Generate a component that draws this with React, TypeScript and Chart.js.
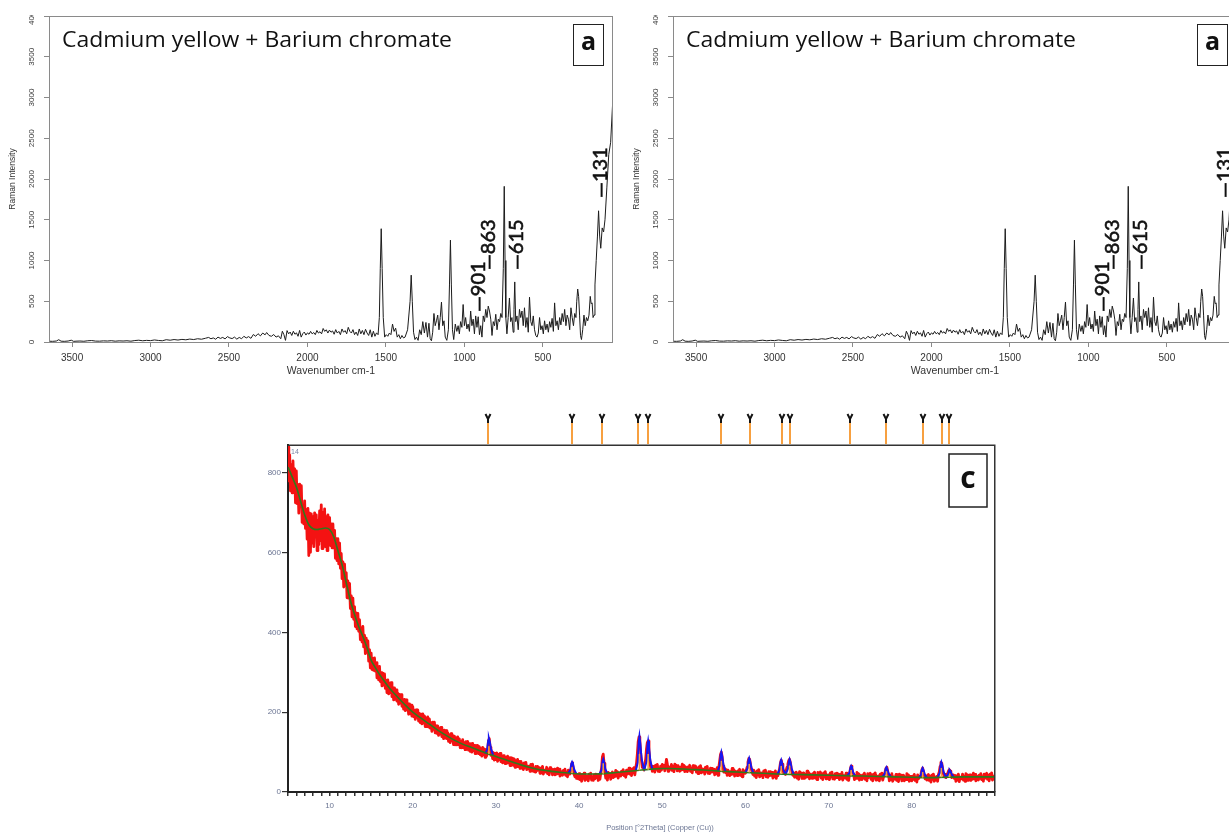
import React, { useEffect, useRef } from "react";
import { Chart, registerables } from "chart.js";

Chart.register(...registerables);
Chart.defaults.font.family = "'Liberation Sans', Arial, sans-serif";

// ---------- Raman panel data ----------
const ramanTitle = "Cadmium yellow + Barium chromate";
const ramanPanelLetter = "a";
const ramanXTicks = [3500, 3000, 2500, 2000, 1500, 1000, 500];
const ramanYTicks = [0, 500, 1000, 1500, 2000, 2500, 3000, 3500, 4000];
const ramanPeakLabels = ["—901", "—863", "—615", "—131"];
const ramanPeakLabelX = [911, 847, 668, 131];
const ramanPeakLabelY = [368, 883, 883, 1767];
// [wavenumber cm-1, intensity]
const ramanSpectrum: [number, number][] = [
  [3650,10],[3625,8],[3600,12],[3585,28],[3570,10],[3550,8],[3525,12],[3505,22],[3490,8],[3475,10],
  [3450,12],[3425,9],[3400,15],[3375,18],[3350,11],[3325,10],[3300,14],[3275,12],[3250,16],[3225,10],
  [3200,14],[3175,12],[3150,15],[3125,10],[3100,18],[3075,22],[3050,15],[3025,20],[3000,17],[2975,25],
  [2950,19],[2925,15],[2900,28],[2875,22],[2850,30],[2825,24],[2800,32],[2775,27],[2750,36],[2725,30],
  [2700,40],[2675,34],[2650,46],[2630,56],[2615,40],[2600,50],[2585,34],[2570,60],[2555,44],[2540,56],
  [2525,38],[2510,66],[2495,50],[2480,42],[2465,60],[2450,35],[2435,56],[2420,40],[2405,70],[2390,50],
  [2375,66],[2360,45],[2345,92],[2330,70],[2315,102],[2300,75],[2285,110],[2270,88],[2260,116],[2245,80],
  [2230,70],[2215,92],[2200,60],[2185,76],[2170,40],[2160,132],[2150,90],[2140,20],[2130,140],[2120,100],
  [2110,122],[2100,80],[2090,132],[2080,95],[2070,112],[2060,70],[2050,142],[2040,60],[2030,102],[2020,122],
  [2010,85],[2000,112],[1990,95],[1980,130],[1970,100],[1960,116],[1950,90],[1940,142],[1930,110],[1920,126],
  [1910,100],[1900,166],[1890,130],[1880,150],[1870,110],[1860,146],[1850,120],[1840,136],[1830,95],[1820,152],
  [1810,110],[1800,130],[1790,90],[1780,160],[1770,120],[1760,140],[1750,100],[1740,180],[1730,130],[1720,110],
  [1710,152],[1700,90],[1690,122],[1680,80],[1670,160],[1660,100],[1650,142],[1640,90],[1630,156],[1620,110],
  [1610,80],[1600,150],[1590,60],[1580,132],[1570,70],[1560,112],[1550,90],[1542,300],[1536,900],[1530,1390],
  [1524,900],[1517,300],[1508,60],[1498,90],[1488,70],[1478,110],[1468,90],[1458,220],[1448,130],[1438,170],
  [1428,60],[1418,90],[1408,40],[1398,80],[1388,50],[1378,60],[1362,150],[1346,500],[1339,820],[1332,500],
  [1324,120],[1315,30],[1305,60],[1295,20],[1285,150],[1275,90],[1265,250],[1255,110],[1245,240],[1235,60],
  [1226,230],[1218,40],[1210,15],[1202,120],[1194,350],[1186,200],[1178,260],[1170,330],[1162,150],[1154,300],
  [1146,490],[1138,200],[1130,260],[1122,60],[1112,20],[1102,150],[1095,700],[1089,1250],[1083,700],[1076,150],
  [1068,30],[1058,220],[1048,130],[1040,200],[1032,100],[1024,250],[1016,180],[1008,460],[1000,200],[992,300],
  [984,160],[976,220],[968,130],[960,380],[952,200],[944,280],[936,100],[928,320],[920,180],[912,310],
  [904,90],[896,200],[888,60],[880,320],[872,250],[864,400],[856,300],[848,440],[840,380],[832,280],
  [824,80],[816,250],[808,200],[800,340],[792,150],[784,280],[776,250],[768,350],[760,300],[752,900],
  [746,1910],[741,1000],[736,300],[729,100],[721,300],[713,540],[705,250],[697,300],[689,120],[684,400],
  [679,737],[673,250],[665,320],[657,150],[649,400],[641,300],[633,380],[625,200],[617,420],[609,180],
  [601,300],[593,120],[585,550],[577,250],[569,200],[561,320],[553,150],[545,80],[537,60],[529,110],
  [521,300],[513,150],[505,200],[497,100],[489,260],[481,150],[473,220],[465,120],[457,250],[449,180],
  [441,290],[433,130],[425,480],[417,200],[409,260],[401,150],[393,300],[385,210],[377,350],[369,250],
  [361,400],[353,200],[345,330],[337,280],[329,150],[321,420],[313,300],[305,200],[297,350],[289,300],
  [284,500],[278,650],[272,560],[266,330],[260,80],[254,30],[246,150],[238,330],[230,200],[222,300],
  [214,260],[206,330],[198,560],[192,470],[186,480],[180,300],[174,330],[168,700],[160,1000],[152,1300],
  [145,1610],[138,1300],[131,1150],[122,1400],[113,1350],[104,1500],[92,1900],[80,2300],[68,2450],[55,2940]
];

// ---------- XRD panel data ----------
const xrdPanelLetter = "c";
const xrdAxisTitle = "Position [°2Theta] (Copper (Cu))";
const xrdYTicks = [0, 200, 400, 600, 800];
const xrdXLabels = [10, 20, 30, 40, 50, 60, 70, 80];
const xrdStart = 5;
const xrdStep = 0.1;
// observed counts, one value every 0.1 °2θ from 5.0 to 90.0 (one row per degree)
const xrdObserved = [
  865, 780, 845, 755, 820, 750, 830, 755, 810, 725, // 5
  805, 723, 771, 699, 772, 715, 768, 676, 719, 672, // 6
  730, 661, 708, 634, 711, 593, 699, 601, 697, 624, // 7
  690, 615, 700, 640, 695, 605, 680, 620, 705, 630, // 8
  720, 610, 700, 630, 710, 615, 690, 605, 695, 635, // 9
  688, 618, 672, 612, 672, 612, 656, 586, 635, 580, // 10
  635, 572, 624, 561, 598, 535, 577, 514, 571, 518, // 11
  550, 487, 529, 486, 523, 460, 492, 439, 486, 433, // 12
  465, 415, 449, 409, 448, 403, 432, 382, 411, 376, // 13
  415, 364, 393, 347, 386, 350, 379, 328, 357, 311, // 14
  348, 307, 335, 305, 336, 303, 324, 286, 312, 281, // 15
  315, 277, 299, 266, 298, 268, 296, 260, 280, 249, // 16
  281, 246, 273, 249, 274, 239, 262, 231, 261, 232, // 17
  256, 228, 248, 220, 245, 223, 244, 215, 230, 208, // 18
  232, 204, 231, 206, 222, 195, 221, 196, 218, 190, // 19
  214, 189, 205, 182, 206, 187, 206, 178, 197, 174, // 20
  195, 171, 196, 173, 191, 164, 185, 164, 188, 163, // 21
  183, 160, 174, 152, 175, 157, 175, 148, 166, 147, // 22
  166, 142, 160, 145, 162, 139, 153, 134, 155, 135, // 23
  154, 134, 149, 127, 143, 124, 146, 129, 142, 119, // 24
  140, 118, 135, 118, 138, 119, 133, 111, 127, 111, // 25
  131, 111, 124, 106, 126, 111, 127, 105, 121, 102, // 26
  121, 100, 122, 104, 117, 96, 117, 99, 117, 96,    // 27
  114, 94, 108, 90, 112, 93, 108, 87, 106, 91,      // 28
  105, 128, 134, 112, 92, 101, 84, 99, 80, 97,      // 29
  81, 98, 77, 94, 81, 97, 76, 90, 73, 91,           // 30
  91, 71, 87, 72, 90, 73, 86, 66, 86, 69,           // 31
  85, 67, 83, 62, 78, 63, 82, 64, 77, 59,           // 32
  77, 61, 71, 56, 73, 62, 74, 56, 65, 58,           // 33
  65, 52, 69, 58, 70, 52, 60, 50, 64, 53,           // 34
  64, 55, 61, 47, 60, 49, 64, 45, 55, 51,           // 35
  50, 62, 46, 56, 43, 61, 51, 58, 43, 56,           // 36
  57, 43, 53, 45, 60, 46, 57, 40, 52, 48,           // 37
  42, 54, 45, 57, 42, 49, 38, 55, 45, 51,           // 38
  52, 70, 74, 58, 44, 38, 46, 34, 42, 33,           // 39
  46, 31, 41, 27, 44, 34, 47, 29, 39, 32,           // 40
  40, 28, 45, 35, 47, 30, 38, 29, 43, 33,           // 41
  45, 36, 43, 29, 42, 32, 47, 60, 88, 95,           // 42
  72, 50, 35, 43, 30, 49, 39, 46, 32, 45,           // 43
  50, 36, 46, 39, 54, 40, 51, 35, 47, 43,           // 44
  40, 52, 44, 56, 41, 48, 37, 55, 45, 51,           // 45
  60, 45, 55, 41, 58, 48, 61, 43, 60, 72,           // 46
  95, 126, 138, 130, 98, 78, 62, 66, 55, 70,        // 47
  82, 108, 124, 128, 105, 80, 62, 66, 52, 64,       // 48
  62, 50, 67, 57, 69, 52, 60, 51, 65, 55,           // 49
  69, 60, 67, 53, 66, 82, 71, 52, 63, 59,           // 50
  57, 69, 54, 64, 51, 70, 60, 67, 53, 66,           // 51
  66, 52, 62, 55, 70, 56, 67, 51, 63, 59,           // 52
  51, 63, 55, 67, 52, 59, 48, 66, 56, 62,           // 53
  65, 50, 60, 46, 63, 53, 66, 48, 58, 51,           // 54
  57, 45, 62, 52, 64, 47, 55, 46, 60, 50,           // 55
  59, 50, 57, 43, 56, 46, 61, 42, 62, 78,           // 56
  94, 100, 88, 65, 50, 59, 49, 56, 42, 55,          // 57
  55, 41, 51, 44, 59, 45, 56, 40, 52, 48,           // 58
  41, 53, 45, 57, 42, 49, 38, 56, 46, 52,           // 59
  47, 55, 62, 75, 84, 82, 70, 58, 50, 44,           // 60
  55, 40, 50, 36, 53, 43, 56, 38, 48, 41,           // 61
  48, 36, 53, 43, 55, 38, 46, 37, 51, 41,           // 62
  51, 42, 49, 35, 48, 38, 53, 34, 45, 41,           // 63
  50, 58, 72, 80, 70, 55, 48, 52, 44, 55,           // 64
  62, 70, 79, 82, 74, 60, 48, 42, 48, 37,           // 65
  38, 50, 35, 45, 32, 51, 41, 48, 34, 47,           // 66
  48, 34, 44, 37, 52, 38, 49, 33, 45, 41,           // 67
  34, 46, 38, 50, 35, 42, 31, 49, 39, 45,           // 68
  50, 35, 45, 31, 48, 38, 51, 33, 43, 36,           // 69
  43, 31, 48, 38, 50, 33, 41, 32, 46, 36,           // 70
  47, 38, 45, 31, 44, 34, 49, 30, 41, 37,           // 71
  35, 47, 32, 42, 29, 44, 56, 65, 60, 48,           // 72
  45, 31, 41, 34, 49, 35, 46, 30, 42, 38,           // 73
  31, 43, 35, 47, 32, 39, 28, 46, 36, 42,           // 74
  47, 32, 42, 28, 45, 35, 48, 30, 40, 33,           // 75
  40, 28, 45, 35, 47, 30, 38, 44, 52, 60,           // 76
  62, 52, 42, 28, 41, 31, 46, 27, 38, 34,           // 77
  32, 44, 29, 39, 26, 45, 35, 42, 28, 41,           // 78
  42, 28, 38, 31, 46, 32, 43, 27, 39, 35,           // 79
  28, 40, 32, 44, 29, 36, 25, 43, 33, 39,           // 80
  38, 45, 55, 60, 52, 42, 33, 41, 30, 38,           // 81
  44, 29, 39, 25, 42, 32, 45, 27, 37, 30,           // 82
  39, 27, 44, 50, 64, 74, 72, 58, 46, 38,           // 83
  44, 36, 42, 46, 52, 56, 52, 44, 36, 42,           // 84
  43, 34, 41, 27, 40, 30, 45, 26, 37, 33,           // 85
  33, 45, 30, 40, 27, 46, 36, 43, 29, 42,           // 86
  43, 29, 39, 32, 47, 33, 44, 28, 40, 36,           // 87
  30, 42, 34, 46, 31, 38, 27, 45, 35, 41,           // 88
  47, 32, 42, 28, 45, 35, 48, 30, 40, 33,           // 89
  36                                                // 90
];
const xrdBackgroundX = [
  5, 5.5, 6, 6.5, 7, 7.5, 8, 8.5, 9, 9.5, 10, 10.5, 11, 11.5, 12, 12.5, 13, 13.5, 14, 14.5, 15, 15.5, 16, 16.5, 17, 17.5, 18,
  19, 20, 21, 22, 23, 24, 25, 26, 27, 28, 29, 30, 31, 32, 33, 34, 35, 36, 37, 38, 39, 40, 41, 42, 43, 44, 45, 46, 47, 48, 49,
  50, 51, 52, 53, 54, 55, 56, 57, 58, 59, 60, 62, 64, 66, 68, 70, 72, 74, 76, 78, 80, 82, 84, 86, 88, 90
];
const xrdBackgroundY = [
  815, 790, 765, 730, 695, 670, 660, 658, 660, 662, 658, 640, 605, 570, 525, 480, 445, 415, 390, 362, 330, 312, 295, 280, 266, 253, 242,
  220, 200, 185, 170, 155, 142, 130, 120, 112, 104, 96, 89, 82, 75, 68, 62, 57, 54, 51, 49, 47, 45, 45, 45, 46, 48, 50, 52, 54, 56, 58,
  59, 59, 58, 57, 56, 55, 54, 52, 51, 50, 49, 47, 45, 44, 43, 42, 41, 40, 39, 38, 37, 36, 37, 38, 38, 38
];
// calculated profile around the fitted peaks (null = gap)
const xrdFitProfile: [number, number | null][] = [
  [28.7,96],[28.95,107],[29.07,129],[29.15,135],[29.25,127],[29.4,109],[29.65,93],[29.7,null],
  [38.7,48],[38.95,55],[39.07,71],[39.15,75],[39.25,70],[39.4,57],[39.65,46],[39.7,null],
  [42.45,45],[42.7,56],[42.82,77],[42.9,82],[43.0,75],[43.15,58],[43.4,46],[43.45,null],
  [46.8,53],[47.05,74],[47.17,127],[47.25,140],[47.35,122],[47.5,85],[47.75,60],[47.85,57],[48.1,76],[48.22,117],[48.3,128],[48.4,113],[48.55,80],[48.8,57],[48.85,null],
  [56.65,52],[56.9,66],[57.02,93],[57.1,100],[57.2,90],[57.35,68],[57.6,51],[57.65,null],
  [60.0,49],[60.25,60],[60.37,80],[60.45,85],[60.55,78],[60.7,62],[60.95,48],[61.0,null],
  [63.85,45],[64.1,56],[64.22,75],[64.3,80],[64.4,73],[64.55,57],[64.75,47],[64.85,46],[65.1,58],[65.22,77],[65.3,82],[65.4,75],[65.55,59],[65.8,44],[65.85,null],
  [72.25,41],[72.5,48],[72.62,61],[72.7,65],[72.8,60],[72.95,49],[73.2,40],[73.25,null],
  [76.5,39],[76.75,46],[76.87,59],[76.95,62],[77.05,57],[77.2,47],[77.45,38],[77.5,null],
  [80.85,36],[81.1,43],[81.22,56],[81.3,60],[81.4,55],[81.55,44],[81.8,36],[81.85,null],
  [83.1,37],[83.35,48],[83.47,69],[83.55,75],[83.65,68],[83.8,51],[84.05,40],[84.1,39],[84.35,43],[84.47,53],[84.55,55],[84.65,52],[84.8,44],[85.05,37]
];
const xrdPeakPositions = [29.15, 39.15, 42.9, 47.25, 48.3, 57.1, 60.45, 64.3, 65.3, 72.7, 76.95, 81.3, 83.55, 84.55];
const xrdStickBase = [95, 47, 46, 54, 56, 52, 49, 45, 45, 41, 39, 36, 37, 37];
const xrdStickTop = [115, 62, 72, 95, 95, 78, 70, 65, 66, 55, 52, 50, 60, 46];
const xrdReferenceLines = [29.0, 39.1, 42.8, 47.1, 48.3, 57.0, 60.5, 64.4, 65.4, 72.6, 76.9, 81.3, 83.6, 84.5];

// ---------- Raman panel ----------
function RamanPanel({ left }: { left: number }) {
  const ref = useRef<HTMLCanvasElement | null>(null);
  useEffect(() => {
    const canvas = ref.current;
    if (!canvas) return;
    const overlay = {
      id: "ramanOverlay",
      afterDraw(chart: any) {
        const { ctx, chartArea: a, scales } = chart;
        const xs = scales.x;
        const ys = scales.y;
        ctx.save();
        // frame
        ctx.strokeStyle = "#8a8a8a";
        ctx.lineWidth = 1;
        ctx.strokeRect(a.left + 0.5, a.top + 0.5, a.right - a.left - 1, a.bottom - a.top);
        // y tick labels (rotated)
        ctx.save();
        ctx.beginPath();
        ctx.rect(0, 15, chart.width, chart.height);
        ctx.clip();
        ctx.fillStyle = "#3a3a3a";
        ctx.font = "8px 'Liberation Sans', Arial, sans-serif";
        ctx.textAlign = "center";
        ctx.textBaseline = "middle";
        for (const v of ramanYTicks) {
          const py = ys.getPixelForValue(v);
          ctx.save();
          ctx.translate(32, py);
          ctx.rotate(-Math.PI / 2);
          ctx.fillText(String(v), 0, 0);
          ctx.restore();
        }
        ctx.restore();
        // title, stretched to the width of the original lettering
        ctx.save();
        ctx.fillStyle = "#111";
        ctx.font = "22px 'Open Sans', sans-serif";
        ctx.textAlign = "left";
        ctx.textBaseline = "alphabetic";
        const tw = ctx.measureText(ramanTitle).width;
        ctx.translate(62, 47);
        ctx.scale(390 / tw, 1);
        ctx.fillText(ramanTitle, 0, 0);
        ctx.restore();
        // panel letter box
        ctx.fillStyle = "#fff";
        ctx.fillRect(573, 24, 30, 41);
        ctx.strokeStyle = "#222";
        ctx.lineWidth = 1;
        ctx.strokeRect(573.5, 24.5, 30, 41);
        ctx.fillStyle = "#111";
        ctx.font = "bold 25px 'Open Sans', sans-serif";
        ctx.textAlign = "center";
        ctx.textBaseline = "middle";
        ctx.fillText(ramanPanelLetter, 588.5, 43);
        // peak labels
        ctx.font = "20px Lato, sans-serif";
        ctx.textAlign = "left";
        ctx.textBaseline = "middle";
        ctx.fillStyle = "#111";
        ctx.strokeStyle = "#111";
        ctx.lineWidth = 0.6;
        ramanPeakLabels.forEach((t, i) => {
          const px = xs.getPixelForValue(ramanPeakLabelX[i]);
          const py = ys.getPixelForValue(ramanPeakLabelY[i]);
          ctx.save();
          ctx.translate(px, py);
          ctx.rotate(-Math.PI / 2);
          ctx.fillText(t, 0, 0);
          ctx.strokeText(t, 0, 0);
          ctx.restore();
        });
        ctx.restore();
      },
    };
    const chart = new Chart(canvas, {
      type: "line",
      data: {
        datasets: [
          {
            data: ramanSpectrum.map(([x, y]) => ({ x, y })),
            borderColor: "#1c1c1c",
            borderWidth: 1,
            pointRadius: 0,
            tension: 0,
          },
        ],
      },
      options: {
        animation: false,
        responsive: false,
        events: [],
        layout: { padding: { top: 16, right: 11, left: 0, bottom: 0 } },
        plugins: { legend: { display: false }, tooltip: { enabled: false } },
        scales: {
          x: {
            type: "linear",
            reverse: true,
            min: 53,
            max: 3647,
            afterBuildTicks: (s: any) => {
              s.ticks = ramanXTicks.map((v) => ({ value: v }));
            },
            ticks: {
              font: { size: 10 },
              color: "#333",
              padding: 5,
              maxRotation: 0,
              autoSkip: false,
              callback: (v: any) => String(v),
            },
            grid: { drawOnChartArea: false, drawTicks: true, tickLength: 5, color: "#8a8a8a" },
            border: { display: false },
            title: {
              display: true,
              text: "Wavenumber cm-1",
              font: { size: 10.5 },
              color: "#333",
              padding: { top: 0, bottom: 13 },
            },
            afterFit: (s: any) => {
              s.height = 48;
            },
          },
          y: {
            type: "linear",
            min: 0,
            max: 4000,
            afterBuildTicks: (s: any) => {
              s.ticks = ramanYTicks.map((v) => ({ value: v }));
            },
            ticks: { display: false },
            grid: { drawOnChartArea: false, drawTicks: true, tickLength: 5, color: "#8a8a8a" },
            border: { display: false },
            title: {
              display: true,
              text: "Raman Intensity",
              font: { size: 8.5 },
              color: "#333",
              padding: { top: 8, bottom: 0 },
            },
            afterFit: (s: any) => {
              s.width = 49;
            },
          },
        },
      },
      plugins: [overlay],
    } as any);
    return () => chart.destroy();
  }, []);
  return (
    <canvas
      ref={ref}
      width={624}
      height={390}
      style={{ position: "absolute", left, top: 0, width: 624, height: 390 }}
    />
  );
}

// ---------- XRD panel ----------
function XrdPanel() {
  const ref = useRef<HTMLCanvasElement | null>(null);
  useEffect(() => {
    const canvas = ref.current;
    if (!canvas) return;
    const overlay = {
      id: "xrdOverlay",
      afterDatasetsDraw(chart: any) {
        const { ctx, scales } = chart;
        ctx.save();
        ctx.strokeStyle = "#f5a040";
        ctx.lineWidth = 1.5;
        xrdPeakPositions.forEach((p, i) => {
          const px = scales.x.getPixelForValue(p);
          ctx.beginPath();
          ctx.moveTo(px, scales.y.getPixelForValue(xrdStickBase[i]));
          ctx.lineTo(px, scales.y.getPixelForValue(xrdStickTop[i]));
          ctx.stroke();
        });
        ctx.restore();
      },
      afterDraw(chart: any) {
        const { ctx, chartArea: a, scales } = chart;
        ctx.save();
        // top and right frame
        ctx.strokeStyle = "#333";
        ctx.lineWidth = 1.5;
        ctx.beginPath();
        ctx.moveTo(a.left, a.top + 0.25);
        ctx.lineTo(a.right - 0.25, a.top + 0.25);
        ctx.lineTo(a.right - 0.25, a.bottom);
        ctx.stroke();
        // reference pattern markers above the plot
        xrdReferenceLines.forEach((p) => {
          const px = Math.round(scales.x.getPixelForValue(p));
          ctx.strokeStyle = "#f7a040";
          ctx.lineWidth = 2;
          ctx.beginPath();
          ctx.moveTo(px, a.top - 22);
          ctx.lineTo(px, a.top - 1);
          ctx.stroke();
          ctx.strokeStyle = "#151515";
          ctx.lineWidth = 2;
          ctx.beginPath();
          ctx.moveTo(px - 2.5, a.top - 31);
          ctx.lineTo(px, a.top - 26);
          ctx.lineTo(px + 2.5, a.top - 31);
          ctx.moveTo(px, a.top - 26);
          ctx.lineTo(px, a.top - 22);
          ctx.stroke();
        });
        // small corner label
        ctx.fillStyle = "#7a86a6";
        ctx.font = "7px 'Liberation Sans', Arial, sans-serif";
        ctx.textAlign = "left";
        ctx.textBaseline = "middle";
        ctx.fillText("14", a.left + 3, a.top + 7);
        // panel letter box
        ctx.fillStyle = "#fff";
        ctx.fillRect(699, 54, 38, 53);
        ctx.strokeStyle = "#222";
        ctx.lineWidth = 1.5;
        ctx.strokeRect(699, 54, 38, 53);
        ctx.fillStyle = "#111";
        ctx.font = "bold 30px 'Open Sans', sans-serif";
        ctx.textAlign = "center";
        ctx.textBaseline = "middle";
        ctx.fillText(xrdPanelLetter, 718, 79);
        // x axis title
        ctx.fillStyle = "#6b7593";
        ctx.font = "7.5px 'Liberation Sans', Arial, sans-serif";
        ctx.textAlign = "center";
        ctx.textBaseline = "middle";
        ctx.fillText(xrdAxisTitle, 410, 428);
        ctx.restore();
      },
    };
    const chart = new Chart(canvas, {
      type: "line",
      data: {
        datasets: [
          {
            data: xrdBackgroundX.map((x, i) => ({ x, y: xrdBackgroundY[i] })),
            borderColor: "#2f7a1c",
            borderWidth: 1.6,
            pointRadius: 0,
            cubicInterpolationMode: "monotone",
          },
          {
            data: xrdFitProfile.map(([x, y]) => ({ x, y })),
            borderColor: "#1616f2",
            borderWidth: 2,
            pointRadius: 0,
            spanGaps: false,
          },
          {
            data: xrdObserved.map((y, i) => ({ x: xrdStart + i * xrdStep, y })),
            borderColor: "#f41212",
            borderWidth: 2.8,
            pointRadius: 0,
            borderJoinStyle: "round",
          },
        ],
      },
      options: {
        animation: false,
        responsive: false,
        events: [],
        layout: { padding: { top: 45, right: 5, left: 0, bottom: 0 } },
        plugins: { legend: { display: false }, tooltip: { enabled: false } },
        scales: {
          x: {
            type: "linear",
            min: 5,
            max: 90,
            ticks: {
              stepSize: 1,
              autoSkip: false,
              maxRotation: 0,
              includeBounds: false,
              callback: (v: any) => (xrdXLabels.includes(Number(v)) ? String(v) : ""),
              font: { size: 8 },
              color: "#6b7593",
              padding: 5,
            },
            grid: { drawOnChartArea: false, tickLength: 4, color: "#333", lineWidth: 1.5 },
            border: { display: true, color: "#222", width: 2 },
            afterFit: (s: any) => {
              s.height = 42;
            },
          },
          y: {
            type: "linear",
            min: 0,
            max: 870,
            afterBuildTicks: (s: any) => {
              s.ticks = xrdYTicks.map((v) => ({ value: v }));
            },
            ticks: { font: { size: 8 }, color: "#6b7593", padding: 1 },
            grid: { drawOnChartArea: false, tickLength: 6, color: "#333", lineWidth: 1.2 },
            border: { display: true, color: "#222", width: 2 },
            afterFit: (s: any) => {
              s.width = 38;
            },
          },
        },
      },
      plugins: [overlay],
    } as any);
    return () => chart.destroy();
  }, []);
  return (
    <canvas
      ref={ref}
      width={750}
      height={434}
      style={{ position: "absolute", left: 250, top: 400, width: 750, height: 434 }}
    />
  );
}

export default function App() {
  return (
    <div
      style={{
        position: "absolute",
        left: 0,
        top: 0,
        width: 1229,
        height: 834,
        overflow: "hidden",
        background: "#fff",
      }}
    >
      <RamanPanel left={0} />
      <RamanPanel left={624} />
      <XrdPanel />
    </div>
  );
}
